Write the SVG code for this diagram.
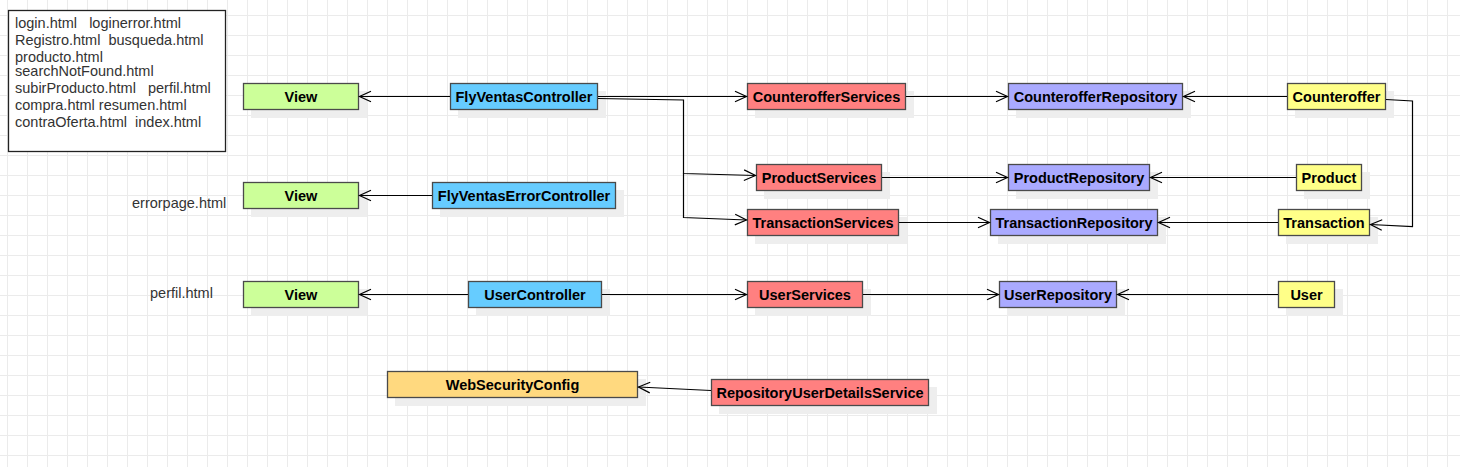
<svg xmlns="http://www.w3.org/2000/svg" width="1460" height="467" viewBox="0 0 1460 467">
<defs>
<pattern id="grid" patternUnits="userSpaceOnUse" x="7" y="15" width="20" height="20">
<path d="M0.5 0 V20 M0 0.5 H20" fill="none" stroke="#ebebeb" stroke-width="1"/>
</pattern>
<marker id="open" viewBox="-13 -7 15 14" refX="0" refY="0" markerWidth="15" markerHeight="14" orient="auto" markerUnits="userSpaceOnUse">
<path d="M-11.5,-5.3 L0,0 L-11.5,5.3" fill="none" stroke="#000" stroke-width="1.2"/>
</marker>
</defs>
<style>
.sh{fill:#eeeeee;stroke:none}
.box{stroke:#4a4a4a;stroke-width:1.3}
.lbl{font-family:"Liberation Sans",Arial,sans-serif;font-size:14.5px;font-weight:bold;fill:#000;text-anchor:middle}
.txt{font-family:"Liberation Sans",Arial,sans-serif;font-size:14.5px;fill:#333}
.green{fill:#CCFF99}.blue{fill:#66CCFF}.red{fill:#FF8080}.purple{fill:#AAAAFF}.yellow{fill:#FFFF88}.orange{fill:#FFD97F}
.edge{fill:none;stroke:#000;stroke-width:1.2;marker-end:url(#open)}
</style>
<rect width="1460" height="467" fill="#ffffff"/>
<rect width="1460" height="467" fill="url(#grid)"/>

<g id="htmlList">
<rect x="8.5" y="10.5" width="217" height="141" fill="#fff" stroke="#222" stroke-width="1.3"/>
<text class="txt" x="15" y="27.5" xml:space="preserve">login.html   loginerror.html</text>
<text class="txt" x="15" y="44.5" xml:space="preserve">Registro.html  busqueda.html</text>
<text class="txt" x="15" y="61.5">producto.html</text>
<text class="txt" x="15" y="76">searchNotFound.html</text>
<text class="txt" x="15" y="93" xml:space="preserve">subirProducto.html   perfil.html</text>
<text class="txt" x="15" y="110">compra.html resumen.html</text>
<text class="txt" x="15" y="126.5" xml:space="preserve">contraOferta.html  index.html</text>
</g>
<g id="errorpageLabel"><text class="txt" x="132" y="208">errorpage.html</text></g>
<g id="perfilLabel"><text class="txt" x="150" y="298">perfil.html</text></g>

<g id="view1"><rect class="sh" x="251" y="91" width="116" height="27"/><rect class="box green" x="243.5" y="83.5" width="115" height="26"/><text class="lbl" x="301" y="102">View</text></g>
<g id="flyVentasController"><rect class="sh" x="458" y="91" width="148" height="27"/><rect class="box blue" x="450.5" y="83.5" width="147" height="26"/><text class="lbl" x="524" y="102">FlyVentasController</text></g>
<g id="view2"><rect class="sh" x="251" y="190" width="116" height="27"/><rect class="box green" x="243.5" y="182.5" width="115" height="26"/><text class="lbl" x="301" y="201">View</text></g>
<g id="flyVentasErrorController"><rect class="sh" x="440" y="190" width="184" height="27"/><rect class="box blue" x="432.5" y="182.5" width="183" height="26"/><text class="lbl" x="524" y="201">FlyVentasErrorController</text></g>
<g id="counterofferServices"><rect class="sh" x="755" y="91" width="159" height="27"/><rect class="box red" x="747.5" y="83.5" width="158" height="26"/><text class="lbl" x="826.5" y="102">CounterofferServices</text></g>
<g id="productServices"><rect class="sh" x="764" y="172" width="126" height="27"/><rect class="box red" x="756.5" y="164.5" width="125" height="26"/><text class="lbl" x="819" y="183">ProductServices</text></g>
<g id="transactionServices"><rect class="sh" x="755" y="217" width="152" height="27"/><rect class="box red" x="747.5" y="209.5" width="151" height="26"/><text class="lbl" x="823" y="228">TransactionServices</text></g>
<g id="counterofferRepository"><rect class="sh" x="1016" y="91" width="175" height="27"/><rect class="box purple" x="1008.5" y="83.5" width="174" height="26"/><text class="lbl" x="1095.5" y="102">CounterofferRepository</text></g>
<g id="productRepository"><rect class="sh" x="1016" y="172" width="142" height="27"/><rect class="box purple" x="1008.5" y="164.5" width="141" height="26"/><text class="lbl" x="1079" y="183">ProductRepository</text></g>
<g id="transactionRepository"><rect class="sh" x="998" y="217" width="168" height="27"/><rect class="box purple" x="990.5" y="209.5" width="167" height="26"/><text class="lbl" x="1074" y="228">TransactionRepository</text></g>
<g id="counteroffer"><rect class="sh" x="1295" y="91" width="99" height="27"/><rect class="box yellow" x="1287.5" y="83.5" width="98" height="26"/><text class="lbl" x="1336.5" y="102">Counteroffer</text></g>
<g id="product"><rect class="sh" x="1304" y="172" width="66" height="27"/><rect class="box yellow" x="1296.5" y="164.5" width="65" height="26"/><text class="lbl" x="1329" y="183">Product</text></g>
<g id="transaction"><rect class="sh" x="1286" y="217" width="92" height="27"/><rect class="box yellow" x="1278.5" y="209.5" width="91" height="26"/><text class="lbl" x="1324" y="228">Transaction</text></g>
<g id="view3"><rect class="sh" x="251" y="289" width="116" height="27"/><rect class="box green" x="243.5" y="281.5" width="115" height="26"/><text class="lbl" x="301" y="300">View</text></g>
<g id="userController"><rect class="sh" x="476" y="289" width="134" height="27"/><rect class="box blue" x="468.5" y="281.5" width="133" height="26"/><text class="lbl" x="535" y="300">UserController</text></g>
<g id="userServices"><rect class="sh" x="755" y="289" width="116" height="27"/><rect class="box red" x="747.5" y="281.5" width="115" height="26"/><text class="lbl" x="805" y="300">UserServices</text></g>
<g id="userRepository"><rect class="sh" x="1007" y="289" width="118" height="27"/><rect class="box purple" x="999.5" y="281.5" width="117" height="26"/><text class="lbl" x="1058" y="300">UserRepository</text></g>
<g id="user"><rect class="sh" x="1286" y="289" width="57" height="27"/><rect class="box yellow" x="1278.5" y="281.5" width="56" height="26"/><text class="lbl" x="1306.5" y="300">User</text></g>
<g id="webSecurityConfig"><rect class="sh" x="395" y="379" width="251" height="27"/><rect class="box orange" x="387.5" y="371.5" width="250" height="26"/><text class="lbl" x="512.5" y="390">WebSecurityConfig</text></g>
<g id="repositoryUserDetailsService"><rect class="sh" x="719" y="387" width="218" height="27"/><rect class="box red" x="711.5" y="379.5" width="217" height="26"/><text class="lbl" x="820" y="398">RepositoryUserDetailsService</text></g>

<g id="connectors">
<path class="edge" d="M450,96.5 H359.5"/>
<path class="edge" d="M598,96.5 H746.5"/>
<path class="edge" d="M598,98.5 L683.5,100 V173.5 L755.5,175.5"/>
<path class="edge" d="M683.5,173.5 V217.5 L746.5,220"/>
<path class="edge" d="M906,96.5 H1007.5"/>
<path class="edge" d="M1287,96.5 H1183.5"/>
<path class="edge" d="M1386,99.5 L1412.5,101 V226.5 L1370.5,224.5"/>
<path class="edge" d="M882,177.5 H1007.5"/>
<path class="edge" d="M1296,177.5 H1150.5"/>
<path class="edge" d="M899,222.5 H989.5"/>
<path class="edge" d="M1278,222.5 H1158.5"/>
<path class="edge" d="M432,195.5 H359.5"/>
<path class="edge" d="M468,294.5 H359.5"/>
<path class="edge" d="M602,294.5 H746.5"/>
<path class="edge" d="M863,294.5 H998.5"/>
<path class="edge" d="M1278,294.5 H1117.5"/>
<path class="edge" d="M711,390.5 L638.5,387"/>
</g>
</svg>
